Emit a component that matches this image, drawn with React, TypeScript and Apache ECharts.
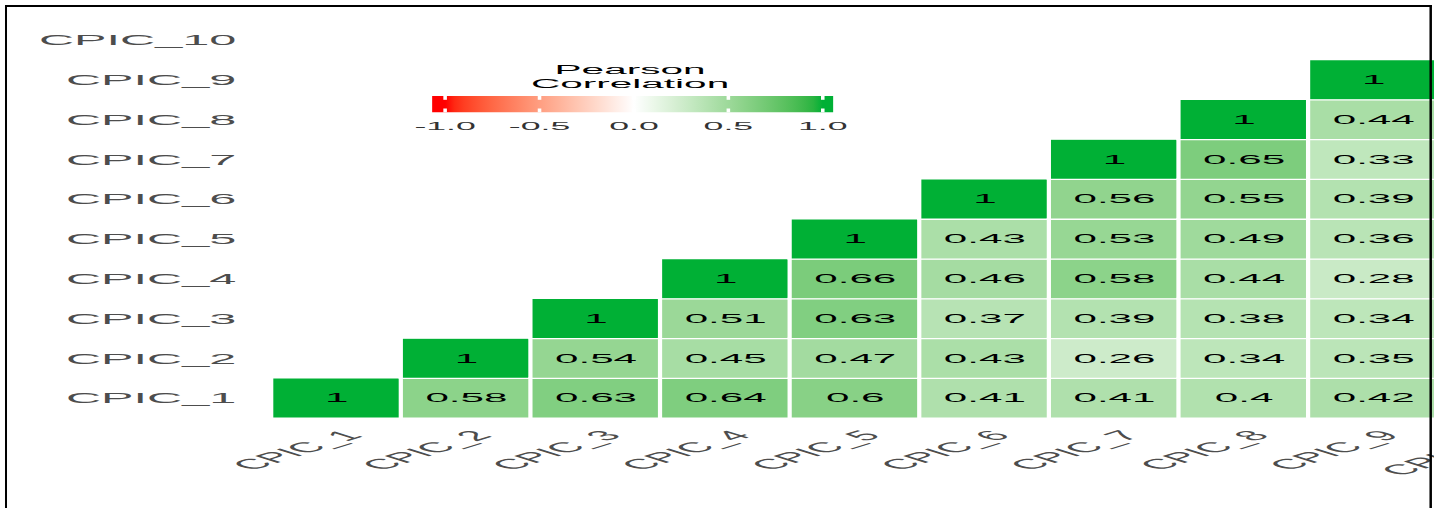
import { useEffect, useRef } from "react";
import * as echarts from "echarts";

// ---------- data ----------
const categories = [
  "CPIC_1", "CPIC_2", "CPIC_3", "CPIC_4", "CPIC_5",
  "CPIC_6", "CPIC_7", "CPIC_8", "CPIC_9", "CPIC_10",
];
// correlation of each column variable with CPIC_1 .. CPIC_k (bottom to top)
const corrCPIC1 = [1];
const corrCPIC2 = [0.58, 1];
const corrCPIC3 = [0.63, 0.54, 1];
const corrCPIC4 = [0.64, 0.45, 0.51, 1];
const corrCPIC5 = [0.6, 0.47, 0.63, 0.66, 1];
const corrCPIC6 = [0.41, 0.43, 0.37, 0.46, 0.43, 1];
const corrCPIC7 = [0.41, 0.26, 0.39, 0.58, 0.53, 0.56, 1];
const corrCPIC8 = [0.4, 0.34, 0.38, 0.44, 0.49, 0.55, 0.65, 1];
const corrCPIC9 = [0.42, 0.35, 0.34, 0.28, 0.36, 0.39, 0.33, 0.44, 1];
const columns = [
  corrCPIC1, corrCPIC2, corrCPIC3, corrCPIC4, corrCPIC5,
  corrCPIC6, corrCPIC7, corrCPIC8, corrCPIC9,
];
const legendTitle = "Pearson\nCorrelation";
const legendTicks = [-1, -0.5, 0, 0.5, 1];
const legendTickLabels = ["-1.0", "-0.5", "0.0", "0.5", "1.0"];

const lowColor = "#FF0000";
const midColor = "#FFFFFF";
const highColor = "#00B035";

// ---------- layout (the picture is horizontally stretched) ----------
const PAGE_W = 1434;
const PAGE_H = 508;
const NARROW_W = 442;
const S = PAGE_W / NARROW_W;
const FONT = "'Liberation Sans', Arial, Helvetica, sans-serif";

// ---------- Lab interpolation (as ggplot's gradient2) ----------
function toLin(c: number) {
  c /= 255;
  return c <= 0.04045 ? c / 12.92 : Math.pow((c + 0.055) / 1.055, 2.4);
}
function fromLin(c: number) {
  const v = c <= 0.0031308 ? 12.92 * c : 1.055 * Math.pow(c, 1 / 2.4) - 0.055;
  return Math.round(Math.min(1, Math.max(0, v)) * 255);
}
const WX = 0.95047, WY = 1.0, WZ = 1.08883;
function hexToLab(hex: string) {
  const r = toLin(parseInt(hex.slice(1, 3), 16));
  const g = toLin(parseInt(hex.slice(3, 5), 16));
  const b = toLin(parseInt(hex.slice(5, 7), 16));
  const X = (0.4124 * r + 0.3576 * g + 0.1805 * b) / WX;
  const Y = (0.2126 * r + 0.7152 * g + 0.0722 * b) / WY;
  const Z = (0.0193 * r + 0.1192 * g + 0.9505 * b) / WZ;
  const f = (t: number) => (t > 0.008856 ? Math.cbrt(t) : 7.787 * t + 16 / 116);
  const fx = f(X), fy = f(Y), fz = f(Z);
  return [116 * fy - 16, 500 * (fx - fy), 200 * (fy - fz)];
}
function labToHex(L: number, a: number, bb: number) {
  const fy = (L + 16) / 116;
  const fx = fy + a / 500;
  const fz = fy - bb / 200;
  const inv = (t: number) => (t * t * t > 0.008856 ? t * t * t : (t - 16 / 116) / 7.787);
  const X = inv(fx) * WX, Y = inv(fy) * WY, Z = inv(fz) * WZ;
  const r = 3.2406 * X - 1.5372 * Y - 0.4986 * Z;
  const g = -0.9689 * X + 1.8758 * Y + 0.0415 * Z;
  const b = 0.0557 * X - 0.204 * Y + 1.057 * Z;
  const h = (n: number) => fromLin(n).toString(16).padStart(2, "0");
  return "#" + h(r) + h(g) + h(b);
}
const lowLab = hexToLab(lowColor);
const midLab = hexToLab(midColor);
const highLab = hexToLab(highColor);
function colorAt(v: number) {
  const t = Math.min(1, Math.abs(v));
  const end = v < 0 ? lowLab : highLab;
  return labToHex(
    midLab[0] + (end[0] - midLab[0]) * t,
    midLab[1] + (end[1] - midLab[1]) * t,
    midLab[2] + (end[2] - midLab[2]) * t
  );
}
const STEPS = 40;
const palette: string[] = [];
for (let i = 0; i <= STEPS; i++) palette.push(colorAt(-1 + (2 * i) / STEPS));

export default function App() {
  const ref = useRef<HTMLDivElement>(null);

  useEffect(() => {
    if (!ref.current) return;
    const chart = echarts.init(ref.current, null, { renderer: "svg" });

    const data: [number, number, number][] = [];
    columns.forEach((col, x) => col.forEach((v, y) => data.push([x, y, v])));

    // legend geometry (narrow coords)
    const barX0 = 133.2, barX1 = 256.8, barY = 96, barH = 16.3;
    const tickX0 = 137.2, tickX1 = 253.6;
    const tickX = (v: number) => tickX0 + ((v + 1) / 2) * (tickX1 - tickX0);
    const barW = barX1 - barX0;
    const stops: { offset: number; color: string }[] = [{ offset: 0, color: colorAt(-1) }];
    for (let i = 0; i <= STEPS; i++) {
      const v = -1 + (2 * i) / STEPS;
      stops.push({ offset: (tickX(v) - barX0) / barW, color: colorAt(v) });
    }
    stops.push({ offset: 1, color: colorAt(1) });

    const graphics: any[] = [
      {
        type: "rect",
        shape: { x: barX0, y: barY, width: barW, height: barH },
        style: { fill: new echarts.graphic.LinearGradient(0, 0, 1, 0, stops) },
        z: 10,
      },
      {
        type: "text",
        x: 194.2,
        y: 76.7,
        style: {
          text: legendTitle,
          fill: "#000",
          fontSize: 12.5,
          fontFamily: FONT,
          lineHeight: 13.3,
          align: "center",
          verticalAlign: "middle",
          textAlign: "center",
          textVerticalAlign: "middle",
        },
        z: 10,
      },
    ];
    legendTicks.forEach((v, i) => {
      const tx = tickX(v);
      graphics.push(
        { type: "rect", shape: { x: tx - 0.55, y: barY, width: 1.1, height: 3.8 }, style: { fill: "#fff" }, z: 11 },
        { type: "rect", shape: { x: tx - 0.55, y: barY + barH - 3.8, width: 1.1, height: 3.8 }, style: { fill: "#fff" }, z: 11 },
        {
          type: "text",
          x: tx,
          y: 126.7,
          style: {
            text: legendTickLabels[i],
            fill: "#333",
            fontSize: 11,
            fontFamily: FONT,
            align: "center",
            verticalAlign: "middle",
            textAlign: "center",
            textVerticalAlign: "middle",
          },
          z: 10,
        }
      );
    });
    // frame
    graphics.push(
      { type: "rect", shape: { x: 1.54, y: 5, width: 0.62, height: PAGE_H }, style: { fill: "#000" }, z: 20 },
      { type: "rect", shape: { x: 440.6, y: 5, width: 0.77, height: PAGE_H }, style: { fill: "#000" }, z: 20 },
      { type: "rect", shape: { x: 1.54, y: 5, width: 439.8, height: 2 }, style: { fill: "#000" }, z: 20 }
    );

    chart.setOption({
      animation: false,
      backgroundColor: "#fff",
      textStyle: { fontFamily: FONT },
      grid: {
        left: 83.84,
        top: 20,
        width: 399.5,
        height: 398,
        containLabel: false,
        outerBoundsMode: "none",
      },
      xAxis: {
        type: "category",
        data: categories,
        axisLine: { show: false },
        axisTick: { show: false },
        splitLine: { show: false },
        axisLabel: {
          interval: 0,
          rotate: 45,
          align: "right",
          verticalAlign: "top",
          margin: 10,
          fontSize: 14,
          fontFamily: FONT,
          color: "#4D4D4D",
        },
      },
      yAxis: {
        type: "category",
        data: categories,
        axisLine: { show: false },
        axisTick: { show: false },
        splitLine: { show: false },
        axisLabel: {
          interval: 0,
          margin: 11,
          fontSize: 15,
          fontFamily: FONT,
          color: "#4D4D4D",
        },
      },
      visualMap: {
        type: "continuous",
        show: false,
        min: -1,
        max: 1,
        dimension: 2,
        inRange: { color: palette },
      },
      series: [
        {
          type: "heatmap",
          data,
          itemStyle: { borderColor: "#fff", borderWidth: 1.3 },
          label: {
            show: true,
            color: "#000",
            fontSize: 13,
            fontFamily: FONT,
            formatter: (p: any) => String(p.value[2]),
          },
          emphasis: { disabled: true },
        },
      ],
      graphic: graphics,
    });

    return () => chart.dispose();
  }, []);

  return (
    <div
      style={{
        position: "fixed",
        left: 0,
        top: 0,
        width: PAGE_W,
        height: PAGE_H,
        overflow: "hidden",
        background: "#fff",
      }}
    >
      <div
        ref={ref}
        style={{
          width: NARROW_W,
          height: PAGE_H,
          transform: `scaleX(${S})`,
          transformOrigin: "0 0",
        }}
      />
    </div>
  );
}
